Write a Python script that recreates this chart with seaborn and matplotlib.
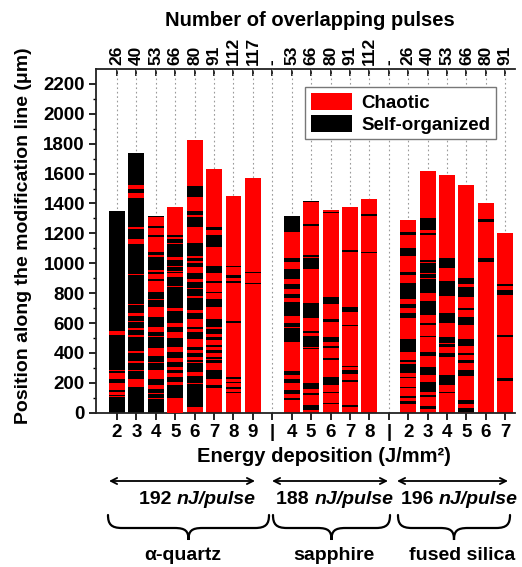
import numpy as np
import pandas as pd
import matplotlib
matplotlib.use("Agg")
import matplotlib.pyplot as plt
import seaborn as sns
from matplotlib.patches import Patch, PathPatch
from matplotlib.path import Path
from matplotlib.offsetbox import TextArea, HPacker, AnnotationBbox

# ---------------- data ----------------
energy_labels = ['2', '3', '4', '5', '6', '7', '8', '9', '|', '4', '5', '6', '7', '8', '|',
                 '2', '3', '4', '5', '6', '7']
pulse_labels = ['26', '40', '53', '66', '80', '91', '112', '117', '-', '53', '66', '80', '91', '112', '-',
                '26', '40', '53', '66', '80', '91']
tick_positions = list(range(21))

bar_positions = [0, 1, 2, 3, 4, 5, 6, 7, 9, 10, 11, 12, 13, 15, 16, 17, 18, 19, 20]
bar_heights = [1350, 1735, 1315, 1375, 1828, 1628, 1450, 1568,
               1315, 1418, 1356, 1378, 1429,
               1289, 1620, 1593, 1523, 1400, 1204]
bar_base = ['Self-organized'] * 4 + ['Chaotic'] * 15

# stripes of the other class (value ranges in um) for each bar
quartz_2 = [(520, 547), (280, 287), (223, 263), (152, 200), (118, 140), (104, 110)]
quartz_3 = [(1500, 1527), (1440, 1467), (1226, 1240), (1128, 1162), (922, 928), (722, 728), (646, 665),
            (607, 612), (553, 564), (508, 520), (397, 415), (330, 348), (282, 288), (169, 223), (76, 80)]
quartz_4 = [(1249, 1307), (1189, 1233), (1077, 1173), (1039, 1055), (940, 954), (893, 928), (809, 882),
            (785, 790), (756, 760), (642, 709), (542, 575), (505, 510), (484, 489), (379, 430), (332, 337),
            (223, 285), (156, 185), (127, 131), (94, 98)]
quartz_5 = [(1189, 1375), (1164, 1177), (1128, 1138), (1025, 1045), (978, 985), (940, 950), (910, 932),
            (885, 890), (840, 845), (682, 698), (571, 598), (551, 555), (497, 542), (408, 441), (341, 363),
            (285, 308), (241, 263), (185, 207), (0, 96)]
quartz_6 = [(1445, 1516), (1322, 1349), (1244, 1307), (1048, 1137), (1017, 1032), (977, 999), (892, 932),
            (836, 876), (782, 828), (687, 770), (624, 665), (557, 575), (491, 542), (419, 442), (375, 401),
            (341, 352), (274, 330), (200, 245), (40, 190)]
quartz_7 = [(1222, 1240), (1110, 1189), (932, 981), (870, 883), (798, 809), (705, 758), (575, 624),
            (526, 557), (486, 504), (441, 453), (401, 419), (361, 375), (330, 352), (223, 285), (163, 185)]
quartz_8 = [(975, 979), (899, 921), (870, 883), (602, 613), (223, 241), (196, 207), (156, 174), (129, 140)]
quartz_9 = [(932, 943), (859, 865)]
sapphire_4 = [(1211, 1316), (1010, 1032), (892, 961), (825, 859), (765, 792), (647, 743), (575, 598),
              (475, 564), (252, 279), (201, 223), (125, 152), (85, 96)]
sapphire_5 = [(1407, 1418), (1251, 1260), (1044, 1055), (961, 1032), (631, 731), (531, 549), (442, 515),
              (424, 435), (156, 201), (120, 129), (18, 51)]
sapphire_6 = [(1334, 1345), (727, 772), (609, 624), (475, 508), (435, 446), (352, 363), (185, 236),
              (134, 140), (60, 64)]
sapphire_7 = [(1077, 1088), (676, 705), (580, 589), (303, 312), (259, 285), (207, 218), (36, 51)]
sapphire_8 = [(1316, 1329), (1066, 1075)]
silica_2 = [(1189, 1206), (1048, 1099), (921, 939), (758, 865), (698, 727), (631, 665), (408, 491),
            (341, 352), (263, 326), (230, 241), (163, 174), (100, 111), (58, 80)]
silica_3 = [(1421, 1425), (1222, 1300), (1189, 1200), (1010, 1021), (936, 1003), (903, 928), (803, 895),
            (669, 749), (653, 665), (586, 598), (504, 513), (379, 408), (252, 308), (140, 207), (107, 118),
            (22, 45)]
silica_4 = [(966, 1032), (780, 883), (653, 669), (602, 653), (464, 508), (441, 459), (375, 397), (185, 252),
            (134, 140), (56, 60)]
silica_5 = [(1247, 1251), (861, 899), (772, 843), (687, 698), (586, 638), (446, 491), (384, 397), (330, 352),
            (245, 285), (58, 85), (7, 29)]
silica_6 = [(1278, 1293), (1010, 1032)]
silica_7 = [(850, 861), (787, 821), (504, 520), (212, 234)]

stripes = [quartz_2, quartz_3, quartz_4, quartz_5, quartz_6, quartz_7, quartz_8, quartz_9,
           sapphire_4, sapphire_5, sapphire_6, sapphire_7, sapphire_8,
           silica_2, silica_3, silica_4, silica_5, silica_6, silica_7]

groups = ['\u03b1-quartz', 'sapphire', 'fused silica']
pulse_energy = ['192', '188', '196']

# ---------------- style ----------------
sns.set_style("ticks")
plt.rcParams['font.family'] = ['Liberation Sans', 'DejaVu Sans']
plt.rcParams['font.weight'] = 'bold'
plt.rcParams['axes.labelweight'] = 'bold'
for k in ['text.color', 'axes.labelcolor', 'xtick.color', 'ytick.color', 'axes.edgecolor']:
    plt.rcParams[k] = 'black'

colors = {'Chaotic': '#ff0000', 'Self-organized': '#000000'}
other = {'Chaotic': 'Self-organized', 'Self-organized': 'Chaotic'}

W, H = 522, 567
fig = plt.figure(figsize=(W / 100, H / 100), dpi=100)


def fx(x):
    return x / W


def fy(y):
    return 1 - y / H


ax = fig.add_axes([fx(96), fy(412.7), fx(515) - fx(96), fy(69) - fy(412.7)])

df = pd.DataFrame({'pos': bar_positions, 'height': bar_heights, 'base': bar_base})
bw = 0.82
sns.barplot(data=df, x='pos', y='height', hue='base', palette=colors, native_scale=True,
            dodge=False, width=bw, errorbar=None, legend=False, linewidth=0, saturation=1,
            ax=ax, zorder=2)

for p, base, segs in zip(bar_positions, bar_base, stripes):
    c = colors[other[base]]
    for lo, hi in segs:
        ax.bar(p, hi - lo, bottom=lo, width=bw, color=c, linewidth=0, zorder=3)

ax.set_xlim(-1.08, 20.5)
ax.set_ylim(0, 2300)
ax.set_xlabel('')
ax.set_ylabel('')

ax.set_xticks(tick_positions)
ax.set_xticklabels(energy_labels, fontsize=13.5, fontweight='bold')
ax.set_yticks(np.arange(0, 2201, 200))
ax.set_yticks(np.arange(0, 2300, 100), minor=True)
ax.set_yticklabels([str(v) for v in range(0, 2201, 200)], fontsize=13.5, fontweight='bold')
ax.tick_params(axis='x', direction='out', length=5, width=1.2, pad=3)
ax.tick_params(axis='y', which='major', direction='out', length=5, width=1.2, pad=3)
ax.tick_params(axis='y', which='minor', direction='out', length=2.5, width=1.0, left=True)

ax.grid(axis='x', linestyle=(0, (1.5, 2.5)), color='#9a9a9a', linewidth=0.8, zorder=0)
ax.set_axisbelow(True)

for s in ['left', 'bottom']:
    ax.spines[s].set_linewidth(1.3)
    ax.spines[s].set_color('#222222')
ax.spines['right'].set_visible(False)
ax.spines['top'].set_visible(False)

sec = ax.secondary_xaxis('top')
sec.set_xticks(tick_positions)
sec.set_xticklabels(pulse_labels, rotation=90, fontsize=12.5, fontweight='bold')
sec.tick_params(direction='in', length=5, width=1.2, pad=3)
sec.spines['top'].set_linewidth(1.3)
sec.spines['top'].set_color('#222222')

handles = [Patch(facecolor=colors['Chaotic'], edgecolor='none', label='Chaotic'),
           Patch(facecolor=colors['Self-organized'], edgecolor='none', label='Self-organized')]
leg = ax.legend(handles=handles, loc='upper right', bbox_to_anchor=(0.955, 0.947),
                prop={'weight': 'bold', 'size': 13.5}, frameon=True, fancybox=False,
                edgecolor='#777777', framealpha=1, handlelength=2.2, handleheight=1.05,
                labelspacing=0.15, borderpad=0.3, handletextpad=0.5, borderaxespad=0)
leg.get_frame().set_linewidth(1.0)

# axis titles
fig.text(fx(310), fy(20), 'Number of overlapping pulses', ha='center', va='center',
         fontsize=14.5, fontweight='bold')
fig.text(fx(324), fy(457), 'Energy deposition (J/mm\u00b2)', ha='center', va='center',
         fontsize=14.5, fontweight='bold')
fig.text(fx(24), fy(236), 'Position along the modification line (\u03bcm)', ha='center', va='center',
         rotation=90, fontsize=14, fontweight='bold')

# arrows, pulse-energy labels, braces, group names
arrow_spans = [(109, 255), (272, 388), (397, 508)]
text_centers = [197, 335, 459]
brace_spans = [(108, 269), (273, 390), (398, 510)]
group_centers = [183, 334, 462]

for (a0, a1) in arrow_spans:
    fig.add_artist(matplotlib.patches.FancyArrowPatch(
        (fx(a0), fy(481)), (fx(a1), fy(481)), transform=fig.transFigure,
        arrowstyle='<->', mutation_scale=11, lw=1.3, color='black', shrinkA=0, shrinkB=0))

for e, cx in zip(pulse_energy, text_centers):
    t1 = TextArea(e + ' ', textprops=dict(fontsize=14, fontweight='bold'))
    t2 = TextArea('nJ/pulse', textprops=dict(fontsize=14, fontweight='bold', style='italic'))
    box = HPacker(children=[t1, t2], align='baseline', pad=0, sep=0)
    ab = AnnotationBbox(box, (fx(cx), fy(500)), xycoords='figure fraction', frameon=False,
                        box_alignment=(0.5, 0.5), pad=0)
    fig.add_artist(ab)


def brace(x0, x1, ytop=515, ymid=528, ytip=540):
    xm = (x0 + x1) / 2
    r = 14
    pts = [(x0, ytop),
           (x0, ytop + 9), (x0 + 3, ymid), (x0 + r, ymid),
           (xm - r, ymid),
           (xm - 3, ymid), (xm, ymid + 3), (xm, ytip),
           (xm, ymid + 3), (xm + 3, ymid), (xm + r, ymid),
           (x1 - r, ymid),
           (x1 - 3, ymid), (x1, ytop + 9), (x1, ytop)]
    codes = [Path.MOVETO,
             Path.CURVE4, Path.CURVE4, Path.CURVE4,
             Path.LINETO,
             Path.CURVE4, Path.CURVE4, Path.CURVE4,
             Path.CURVE4, Path.CURVE4, Path.CURVE4,
             Path.LINETO,
             Path.CURVE4, Path.CURVE4, Path.CURVE4]
    verts = [(fx(x), fy(y)) for x, y in pts]
    fig.add_artist(PathPatch(Path(verts, codes), transform=fig.transFigure, fill=False,
                             lw=1.6, edgecolor='black', capstyle='round'))


for (b0, b1) in brace_spans:
    brace(b0, b1)

for g, cx in zip(groups, group_centers):
    fig.text(fx(cx), fy(556), g, ha='center', va='center', fontsize=14, fontweight='bold')

fig.savefig('out.png', dpi=100)
